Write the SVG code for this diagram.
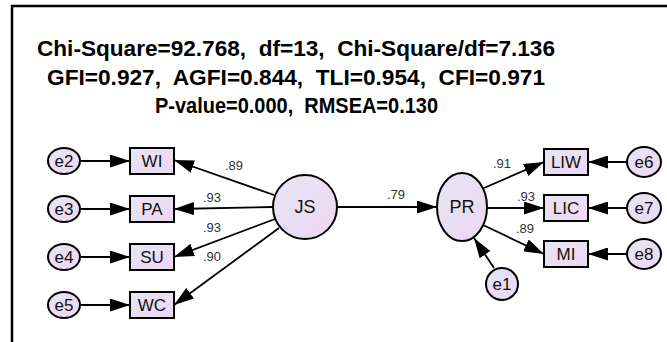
<svg xmlns="http://www.w3.org/2000/svg" width="667" height="342" viewBox="0 0 667 342">
<defs>
<linearGradient id="g" x1="0" y1="0" x2="1" y2="1">
<stop offset="0" stop-color="#e4e6f3"/>
<stop offset="1" stop-color="#efd6f2"/>
</linearGradient>
<marker id="ah" markerUnits="userSpaceOnUse" markerWidth="20" markerHeight="13" refX="20" refY="6.5" orient="auto">
<path d="M0,0 L20,6.5 L0,13 z" fill="#000"/>
</marker>
<style>
.n{fill:url(#g);stroke:#000;stroke-width:2}
.t{font-family:"Liberation Sans",Arial,sans-serif;font-size:17px;fill:#111;text-anchor:middle;dominant-baseline:central}
.c{stroke:#000;stroke-width:1.8;fill:none;marker-end:url(#ah)}
.l{font-family:"Liberation Sans",Arial,sans-serif;font-size:13px;fill:#333}
.h{font-family:"Liberation Sans",Arial,sans-serif;font-size:22px;font-weight:bold;fill:#000;text-anchor:middle;white-space:pre}
</style>
</defs>
<rect width="667" height="342" fill="#fff"/>
<path d="M12,342 V6 H667" fill="none" stroke="#000" stroke-width="2.5"/>
<g id="title">
<text class="h" x="296" y="56" textLength="518" lengthAdjust="spacingAndGlyphs">Chi-Square=92.768,  df=13,  Chi-Square/df=7.136</text>
<text class="h" x="296" y="85" textLength="498" lengthAdjust="spacingAndGlyphs">GFI=0.927,  AGFI=0.844,  TLI=0.954,  CFI=0.971</text>
<text class="h" x="296.5" y="113" textLength="283" lengthAdjust="spacingAndGlyphs">P-value=0.000,  RMSEA=0.130</text>
</g>
<g id="connectors">
<line class="c" x1="80" y1="161" x2="130" y2="161"/>
<line class="c" x1="80" y1="209" x2="130" y2="209"/>
<line class="c" x1="80" y1="257" x2="130" y2="257"/>
<line class="c" x1="80" y1="305" x2="130" y2="305"/>
<line class="c" x1="274" y1="195" x2="174" y2="160"/>
<line class="c" x1="273" y1="207" x2="174" y2="209"/>
<line class="c" x1="275" y1="219" x2="174" y2="257"/>
<line class="c" x1="279" y1="228" x2="174" y2="305"/>
<line class="c" x1="337" y1="207" x2="437" y2="207"/>
<line class="c" x1="484" y1="188" x2="544" y2="162"/>
<line class="c" x1="487" y1="208" x2="544" y2="208"/>
<line class="c" x1="483" y1="225" x2="544" y2="254"/>
<line class="c" x1="627" y1="162" x2="588" y2="162"/>
<line class="c" x1="627" y1="208" x2="588" y2="208"/>
<line class="c" x1="627" y1="254" x2="588" y2="254"/>
<line class="c" x1="494" y1="268" x2="474" y2="238"/>
<text class="l" x="225" y="170">.89</text>
<text class="l" x="203" y="202">.93</text>
<text class="l" x="203" y="232">.93</text>
<text class="l" x="203" y="261">.90</text>
<text class="l" x="387" y="199">.79</text>
<text class="l" x="493" y="168">.91</text>
<text class="l" x="517" y="201">.93</text>
<text class="l" x="516" y="233">.89</text>
</g>
<g id="e2"><ellipse class="n" cx="64" cy="161" rx="16" ry="13"/><text class="t" x="64" y="161">e2</text></g>
<g id="e3"><ellipse class="n" cx="64" cy="209" rx="16" ry="13"/><text class="t" x="64" y="209">e3</text></g>
<g id="e4"><ellipse class="n" cx="64" cy="257" rx="16" ry="13"/><text class="t" x="64" y="257">e4</text></g>
<g id="e5"><ellipse class="n" cx="64" cy="305" rx="16" ry="13"/><text class="t" x="64" y="305">e5</text></g>
<g id="WI"><rect class="n" x="130" y="148" width="44" height="26"/><text class="t" x="152" y="161">WI</text></g>
<g id="PA"><rect class="n" x="130" y="196" width="44" height="26"/><text class="t" x="152" y="209">PA</text></g>
<g id="SU"><rect class="n" x="130" y="244" width="44" height="26"/><text class="t" x="152" y="257">SU</text></g>
<g id="WC"><rect class="n" x="130" y="292" width="44" height="26"/><text class="t" x="152" y="305">WC</text></g>
<g id="JS"><circle class="n" cx="305" cy="207" r="32"/><text class="t" x="305" y="207" style="font-size:18px">JS</text></g>
<g id="PR"><ellipse class="n" cx="462" cy="207" rx="25" ry="34"/><text class="t" x="462" y="207" style="font-size:18px">PR</text></g>
<g id="LIW"><rect class="n" x="544" y="149" width="44" height="26"/><text class="t" x="566" y="162">LIW</text></g>
<g id="LIC"><rect class="n" x="544" y="195" width="44" height="26"/><text class="t" x="566" y="208">LIC</text></g>
<g id="MI"><rect class="n" x="544" y="241" width="44" height="26"/><text class="t" x="566" y="254">MI</text></g>
<g id="e6"><ellipse class="n" cx="644" cy="162" rx="17" ry="15"/><text class="t" x="644" y="162">e6</text></g>
<g id="e7"><ellipse class="n" cx="644" cy="208" rx="17" ry="15"/><text class="t" x="644" y="208">e7</text></g>
<g id="e8"><ellipse class="n" cx="644" cy="254" rx="17" ry="15"/><text class="t" x="644" y="254">e8</text></g>
<g id="e1"><ellipse class="n" cx="502" cy="284" rx="16" ry="16"/><text class="t" x="502" y="284">e1</text></g>
</svg>
